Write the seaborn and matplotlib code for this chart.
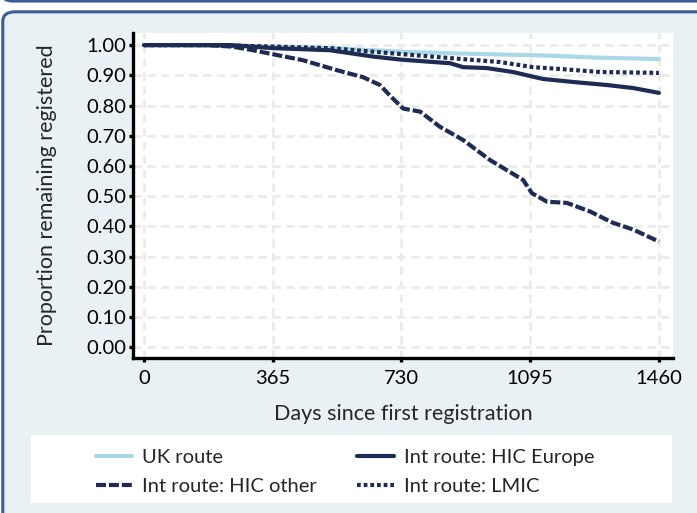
import matplotlib
matplotlib.use("Agg")
import matplotlib.pyplot as plt
import seaborn as sns
from matplotlib.patches import FancyBboxPatch, Rectangle

# Data
uk_days = [0, 200, 365, 527, 754, 900, 1150, 1300, 1460]
uk_prop = [1.00, 0.999, 0.995, 0.990, 0.977, 0.972, 0.965, 0.958, 0.954]

eur_days = [0, 244, 365, 527, 650, 728, 868, 905, 972, 1046, 1131, 1217, 1312, 1387, 1460]
eur_prop = [1.00, 1.00, 0.99, 0.983, 0.962, 0.952, 0.940, 0.927, 0.924, 0.911, 0.888, 0.878, 0.868, 0.858, 0.842]

oth_days = [0, 180, 250, 300, 365, 451, 547, 621, 669, 700, 735, 783, 839, 905, 981, 1075, 1100,
            1143, 1199, 1264, 1330, 1387, 1460]
oth_prop = [1.00, 1.00, 0.995, 0.985, 0.970, 0.950, 0.917, 0.894, 0.868, 0.83, 0.790, 0.780, 0.730,
            0.686, 0.620, 0.554, 0.510, 0.482, 0.478, 0.450, 0.412, 0.390, 0.350]

lmic_days = [0, 200, 365, 527, 754, 868, 1009, 1103, 1180, 1293, 1460]
lmic_prop = [1.00, 1.00, 0.995, 0.990, 0.968, 0.957, 0.944, 0.927, 0.921, 0.911, 0.908]

x_ticks = [0, 365, 730, 1095, 1460]
y_ticks = [i / 10 for i in range(11)]

sns.set_style("white")
plt.rcParams['font.family'] = ['Lato', 'DejaVu Sans']

NAVY = '#1e2c55'
LIGHT = '#a9d9e6'
BG = '#e9f1f4'
BORDER = '#3b5b9b'
FS = 14.5
LFS = 15.5

fig = plt.figure(figsize=(6.97, 5.13), dpi=100)
fig.patch.set_facecolor('white')

# outer panels (the one above is only visible as a line)
fig.patches.append(FancyBboxPatch((0.003, 0.998), 1.2, 0.2, boxstyle="round,pad=0,rounding_size=0.015",
                                  transform=fig.transFigure, facecolor=BG, edgecolor=BORDER, lw=2.2,
                                  zorder=-3))
fig.patches.append(FancyBboxPatch((0.004, -0.2), 1.2, 1.177, boxstyle="round,pad=0,rounding_size=0.018",
                                  transform=fig.transFigure, facecolor=BG, edgecolor=BORDER, lw=2.2,
                                  zorder=-3))
# white legend box
fig.patches.append(Rectangle((31 / 697, 1 - 503 / 513), (672 - 31) / 697, 68 / 513,
                             transform=fig.transFigure, facecolor='white', edgecolor='none', zorder=-2))

ax = fig.add_axes([133 / 697, 1 - 358 / 513, (673 - 133) / 697, (358 - 33) / 513])
ax.set_facecolor('white')

lw = 3.0
sns.lineplot(x=uk_days, y=uk_prop, ax=ax, color=LIGHT, lw=lw, label='UK route', zorder=3)
sns.lineplot(x=oth_days, y=oth_prop, ax=ax, color=NAVY, lw=lw, linestyle=(0, (2.4, 0.7)),
             label='Int route: HIC other', zorder=4)
sns.lineplot(x=eur_days, y=eur_prop, ax=ax, color=NAVY, lw=lw, label='Int route: HIC Europe', zorder=4)
sns.lineplot(x=lmic_days, y=lmic_prop, ax=ax, color=NAVY, lw=lw, linestyle=(0, (0.9, 0.7)),
             label='Int route: LMIC', zorder=4)

ax.set_xlim(-31, 1500)
ax.set_ylim(-0.035, 1.04)
ax.set_xticks(x_ticks)
ax.set_xticklabels([str(t) for t in x_ticks])
ax.set_yticks(y_ticks)
ax.set_yticklabels([f'{t:.2f}' for t in y_ticks])

ax.grid(True, color='#ebebeb', lw=2.0, linestyle=(0, (3, 2)), zorder=0)
ax.set_axisbelow(True)
for s in ['top', 'right']:
    ax.spines[s].set_visible(False)
for s in ['left', 'bottom']:
    ax.spines[s].set_color('black')
    ax.spines[s].set_linewidth(2.4)
ax.tick_params(axis='both', direction='out', length=3, width=2.4, color='black',
               labelsize=FS, labelcolor='black', pad=2, left=True, bottom=True)
ax.tick_params(axis='x', pad=6)
ax.set_xlabel('Days since first registration', fontsize=LFS, labelpad=12)
ax.set_ylabel('Proportion remaining registered', fontsize=LFS, labelpad=21)

ax.get_legend().remove()
h, l = ax.get_legend_handles_labels()
fig.legend(h, l, loc='center', bbox_to_anchor=(345 / 697, 1 - 472 / 513), ncol=2, frameon=False,
           fontsize=FS, handlelength=1.8, handletextpad=0.5, columnspacing=2.0, labelspacing=0.6)

fig.savefig('out.png', dpi=100)
